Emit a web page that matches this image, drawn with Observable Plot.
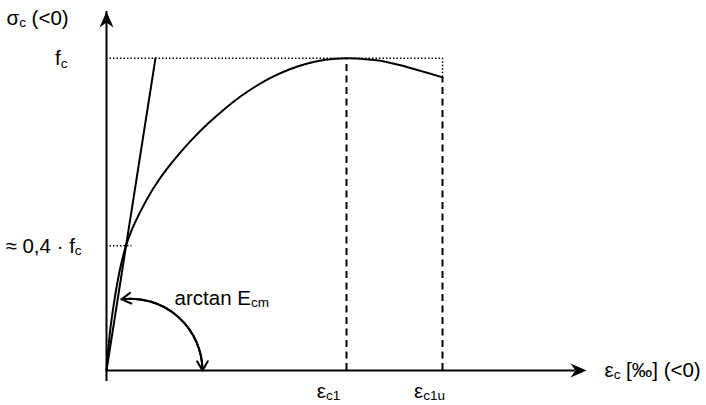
<!DOCTYPE html>
<html>
<head>
<meta charset="utf-8">
<script src="https://cdn.jsdelivr.net/npm/d3@7"></script>
<script src="https://cdn.jsdelivr.net/npm/@observablehq/plot@0.6"></script>
<style>
  html, body { margin: 0; padding: 0; background: #fff; }
  svg { display: block; overflow: visible; }
</style>
</head>
<body>
<div id="chart"></div>
<script>
// Stress–strain relation for concrete, strain normalised to εc1, stress to fc.
const curveStrain = [0, 0.0083, 0.0167, 0.0375, 0.0583, 0.0813, 0.1083, 0.1417, 0.175, 0.2125, 0.2542, 0.30, 0.35, 0.4208, 0.4958, 0.5583, 0.6292, 0.6958, 0.7667, 0.8375, 0.9125, 1.0, 1.0792, 1.1417, 1.225, 1.3083, 1.4];
const curveStress = [0, 0.0737, 0.1378, 0.2468, 0.3317, 0.40, 0.4558, 0.5096, 0.5577, 0.6038, 0.6481, 0.6917, 0.7349, 0.7894, 0.8404, 0.8776, 0.9138, 0.9420, 0.9657, 0.9833, 0.9952, 1.0, 0.9974, 0.9920, 0.9776, 0.9599, 0.9391];

// Secant modulus Ecm: straight line from the origin through the curve at 0.4·fc
const secantStrain = [0, 0.204];
const secantStress = [0, 1];

// Characteristic strains on the horizontal axis
const strainTicks = [1, 1.4];
const strainTickLabels = ["ε_c1", "ε_c1u"];

// Characteristic stresses on the vertical axis
const stressTicks = [1, 0.4];
const stressTickLabels = ["f_c", "≈ 0,4 · f_c"];

// Axis extents and titles
const strainMax = 2;
const stressMax = 1.15;
const strainTitle = "ε_c [‰] (<0)";
const stressTitle = "σ_c (<0)";

// Angle annotation between the secant and the strain axis
const angleLabel = "arctan E_cm";
const angleFromStress = 0.226; // where the arc meets the secant
const angleToStrain = 0.4;     // where the arc meets the strain axis

// ---------------------------------------------------------------
const curvePts = curveStrain.map((e, i) => ({e, s: curveStress[i]}));
const secantPts = secantStrain.map((e, i) => ({e, s: secantStress[i]}));
const secantSlope = (secantStress[1] - secantStress[0]) / (secantStrain[1] - secantStrain[0]);
const fcLevel = stressTicks[0];
const lowLevel = stressTicks[1];
const eps1 = strainTicks[0];
const eps1u = strainTicks[1];
const endStress = curveStress[curveStress.length - 1];
const arcStart = {x: angleFromStress / secantSlope, y: angleFromStress};
const arcEnd = {x: angleToStrain, y: 0};

// Filled, notched arrowheads for the axes (tip at the anchor point)
const headRight = {
  draw(ctx) {
    ctx.moveTo(0, 0);
    ctx.lineTo(-16, -7);
    ctx.lineTo(-11, 0);
    ctx.lineTo(-16, 7);
    ctx.closePath();
  }
};
const headUp = {
  draw(ctx) {
    ctx.moveTo(0, 0);
    ctx.lineTo(-7, 16);
    ctx.lineTo(0, 11);
    ctx.lineTo(7, 16);
    ctx.closePath();
  }
};

const dotted = {stroke: "#000", strokeWidth: 1.5, strokeDasharray: "1.5,2"};
const dashed = {stroke: "#000", strokeWidth: 2, strokeDasharray: "7,4.5"};
const font = {fontSize: 20.5, fill: "#000", lineAnchor: "bottom"};

const svg = Plot.plot({
  width: 706,
  height: 405,
  marginLeft: 106,
  marginRight: 120,
  marginTop: 11,
  marginBottom: 35,
  x: {domain: [0, strainMax], axis: null},
  y: {domain: [0, stressMax], axis: null},
  style: {fontFamily: "'Liberation Sans', Arial, sans-serif", background: "#fff", color: "#000"},
  marks: [
    // reference lines at fc and 0.4·fc
    Plot.ruleY([fcLevel], {x1: 0, x2: eps1u, ...dotted}),
    Plot.ruleY([lowLevel], {x1: 0, x2: 1.3 * lowLevel / secantSlope, ...dotted}),
    Plot.ruleX([eps1u], {y1: endStress, y2: fcLevel, ...dotted}),
    // dashed drops to εc1 and εc1u
    Plot.ruleX([eps1], {y1: 0, y2: fcLevel, ...dashed}),
    Plot.ruleX([eps1u], {y1: 0, y2: endStress, ...dashed}),
    // axes
    Plot.ruleY([0], {x1: 0, x2: strainMax, insetRight: 11, stroke: "#000", strokeWidth: 2}),
    Plot.ruleX([0], {y1: 0, y2: stressMax, insetTop: 11, stroke: "#000", strokeWidth: 2}),
    Plot.dot([[strainMax, 0]], {x: d => d[0], y: d => d[1], symbol: headRight, r: 5, fill: "#000", stroke: null}),
    Plot.dot([[0, stressMax]], {x: d => d[0], y: d => d[1], symbol: headUp, r: 5, fill: "#000", stroke: null}),
    // secant and stress–strain curve
    Plot.line(secantPts, {x: "e", y: "s", stroke: "#000", strokeWidth: 2}),
    Plot.line(curvePts, {x: "e", y: "s", stroke: "#000", strokeWidth: 2, curve: "catmull-rom"}),
    // double-headed angle arc
    Plot.arrow([{}], {x1: arcStart.x, y1: arcStart.y, x2: arcEnd.x, y2: arcEnd.y, bend: 50, insetStart: 4, stroke: "#000", strokeWidth: 2, headLength: 8}),
    Plot.arrow([{}], {x1: arcEnd.x, y1: arcEnd.y, x2: arcStart.x, y2: arcStart.y, bend: -50, insetEnd: 4, stroke: "#000", strokeWidth: 2, headLength: 8}),
    // labels
    Plot.text([stressTitle], {x: 0, y: stressMax, text: d => d, textAnchor: "start", dx: -100, dy: 13, ...font}),
    Plot.text([stressTickLabels[0]], {x: 0, y: stressTicks[0], text: d => d, textAnchor: "end", dx: -39, dy: 7, ...font}),
    Plot.text([stressTickLabels[1]], {x: 0, y: stressTicks[1], text: d => d, textAnchor: "start", dx: -101, dy: 7, ...font}),
    Plot.text([strainTickLabels[0]], {x: strainTicks[0], y: 0, text: d => d, textAnchor: "middle", dx: -18, dy: 27, ...font}),
    Plot.text([strainTickLabels[1]], {x: strainTicks[1], y: 0, text: d => d, textAnchor: "middle", dx: -13, dy: 27, ...font}),
    Plot.text([strainTitle], {x: strainMax, y: 0, text: d => d, textAnchor: "start", dx: 18, dy: 6, ...font}),
    Plot.text([angleLabel], {x: arcStart.x, y: arcStart.y, text: d => d, textAnchor: "start", dx: 57, dy: 5, ...font})
  ]
});

// Render "_xyz" segments as subscripts
d3.select(svg).selectAll("text").each(function () {
  const s = this.textContent;
  if (!s.includes("_")) return;
  const el = d3.select(this);
  el.text(null);
  const parts = s.split(/(_[^\s]+)/).filter(p => p.length);
  let lowered = false;
  for (const p of parts) {
    if (p.startsWith("_")) {
      el.append("tspan").attr("font-size", 13.5).attr("dy", 2.5).text(p.slice(1));
      lowered = true;
    } else {
      el.append("tspan").attr("dy", lowered ? -2.5 : 0).text(p);
      lowered = false;
    }
  }
});

document.getElementById("chart").appendChild(svg);
</script>
</body>
</html>
